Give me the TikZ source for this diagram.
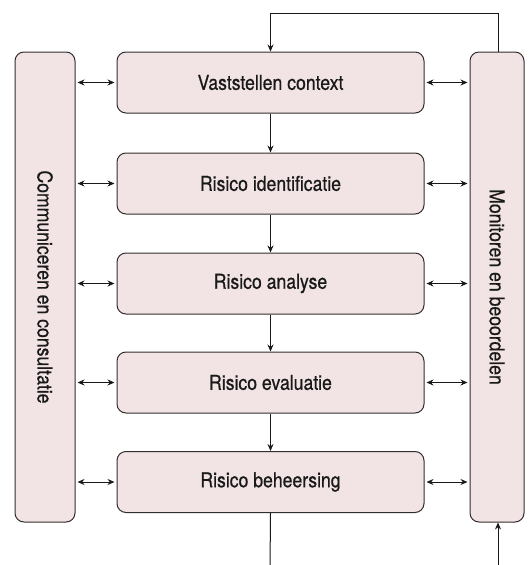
\documentclass[tikz,border=0pt]{standalone}
\usepackage{fontspec}
\setmainfont{TeX Gyre Heros}[FakeStretch=0.86,FakeBold=0.6]
\usetikzlibrary{arrows.meta}
\definecolor{boxfill}{RGB}{242,228,228}
\definecolor{boxline}{RGB}{50,45,45}
\begin{document}
\begin{tikzpicture}[x=1pt,y=-1pt,
  lbl/.style={font=\fontsize{20.5}{24}\selectfont,text=black!90},
  stepbox/.style={draw=boxline,line width=1pt,fill=boxfill,rounded corners=9pt,minimum width=307pt,minimum height=61pt,lbl,inner sep=0pt},
  sidebox/.style={draw=boxline,line width=1pt,fill=boxfill,rounded corners=9pt,minimum height=470pt,inner sep=0pt},
  conn/.style={draw=black!90,line width=1pt,-{Stealth[length=7pt,width=6pt]}},
  biconn/.style={draw=black!90,line width=1pt,{Stealth[length=7pt,width=6pt]}-{Stealth[length=7pt,width=6pt]}}
]
\useasboundingbox (0,0) rectangle (530,565);
\node[sidebox,minimum width=60pt] (L) at (45,287) {};
\node[sidebox,minimum width=54pt] (R) at (497,287) {};
\node[rotate=-90,lbl] (Lt) at (L.center) {Communiceren en consultatie};
\node[rotate=-90,lbl] (Rt) at (R.center) {Monitoren en beoordelen};
\node[stepbox] (s1) at (270.5,82.5) {Vaststellen context};
\node[stepbox] (s2) at (270.5,183.5) {Risico identificatie};
\node[stepbox] (s3) at (270.5,283.5) {Risico analyse};
\node[stepbox] (s4) at (270.5,382.5) {Risico evaluatie};
\node[stepbox] (s5) at (270.5,482) {Risico beheersing};
\foreach \a/\b in {s1/s2,s2/s3,s3/s4,s4/s5}{\draw[conn] (\a) -- (\b);}
\foreach \s in {s1,s2,s3,s4,s5}{
  \draw[biconn] (\s.west -| L.east) ++(2,0) -- ([xshift=-2pt]\s.west);
  \draw[biconn] ([xshift=2pt]\s.east) -- ([xshift=-2pt]\s.east -| R.west);
}
\coordinate (top) at (498,13);
\draw[conn] (R.north -| top) -- (top) -| (s1.north);
\coordinate (bl) at (270,570);
\coordinate (br) at (498,570);
\draw[draw=black!90,line width=1pt] (s5.south) -- (bl);
\draw[conn] (br) -- (br |- R.south);
\end{tikzpicture}
\end{document}
